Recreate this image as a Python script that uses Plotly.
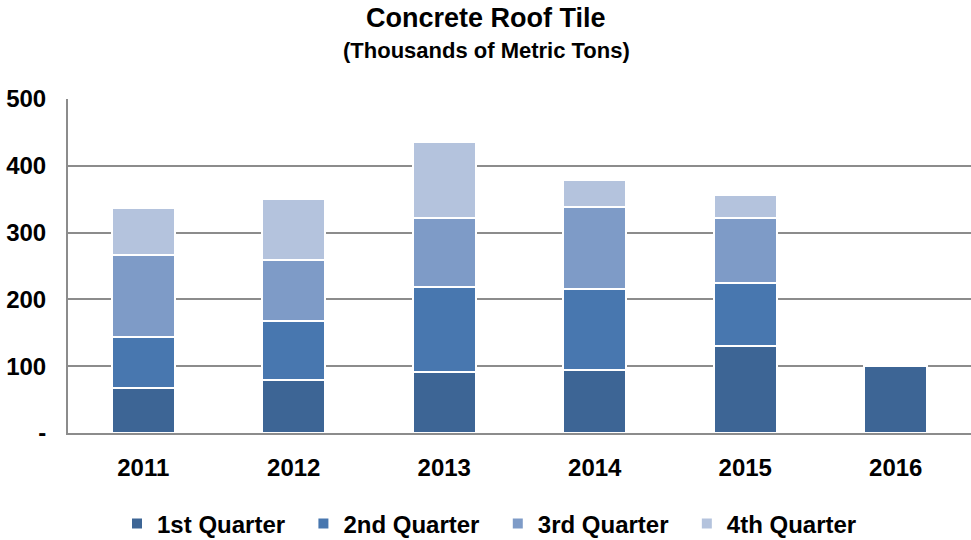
import plotly.graph_objects as go

years = ["2011", "2012", "2013", "2014", "2015", "2016"]
q1 = [67, 79, 92, 95, 130, 101]
q2 = [76, 89, 127, 121, 95, None]
q3 = [123, 91, 103, 123, 97, None]
q4 = [71, 91, 114, 40, 35, None]

series = [
    ("1st Quarter", q1, "#3D6595"),
    ("2nd Quarter", q2, "#4877AF"),
    ("3rd Quarter", q3, "#7E9BC7"),
    ("4th Quarter", q4, "#B4C3DD"),
]

y_ticks = [0, 100, 200, 300, 400, 500]
y_tick_text = ["-", "100", "200", "300", "400", "500"]

FONT = "Liberation Sans"
PLOT_TOP, PLOT_BOTTOM = 99, 433
PLOT_H = PLOT_BOTTOM - PLOT_TOP


def paper_y(px):
    return (PLOT_BOTTOM - px) / PLOT_H


fig = go.Figure()
for name, vals, color in series:
    fig.add_trace(go.Bar(
        x=years, y=vals, name=name + "\u00a0\u00a0",
        marker=dict(color=color, line=dict(color="white", width=2)),
        width=0.42,
    ))

fig.add_annotation(
    text="Concrete Roof Tile", xref="paper", yref="paper",
    x=0.463, y=paper_y(18), xanchor="center", yanchor="middle", showarrow=False,
    font=dict(family=FONT, size=27, color="black", weight="bold"),
)
fig.add_annotation(
    text="(Thousands of Metric Tons)", xref="paper", yref="paper",
    x=0.463, y=paper_y(50), xanchor="center", yanchor="middle", showarrow=False,
    font=dict(family=FONT, size=22, color="black", weight="bold"),
)

fig.update_layout(
    width=971, height=540,
    barmode="stack",
    paper_bgcolor="white", plot_bgcolor="white",
    margin=dict(l=68, r=0, t=PLOT_TOP, b=540 - PLOT_BOTTOM, autoexpand=False),
    font=dict(family=FONT, color="black", weight="bold"),
    legend=dict(
        orientation="h", x=0.474, xanchor="center", y=paper_y(524), yanchor="middle",
        font=dict(family=FONT, size=24, color="black", weight="bold"),
        traceorder="normal", itemwidth=30,
    ),
    showlegend=True,
)

fig.update_yaxes(
    range=[0, 500], tickvals=y_ticks, ticktext=y_tick_text,
    showgrid=True, gridcolor="#8C8C8C", gridwidth=2,
    showline=True, linecolor="#8C8C8C", linewidth=2,
    zeroline=False, ticks="", ticklabelstandoff=15, automargin=False,
    tickfont=dict(family=FONT, size=24, color="black", weight="bold"),
)
fig.update_xaxes(
    showgrid=False, showline=True, linecolor="#8C8C8C", linewidth=2,
    ticks="", tickfont=dict(family=FONT, size=24, color="black", weight="bold"),
    ticklabelstandoff=12, automargin=False,
)

fig.write_html("out.html")
